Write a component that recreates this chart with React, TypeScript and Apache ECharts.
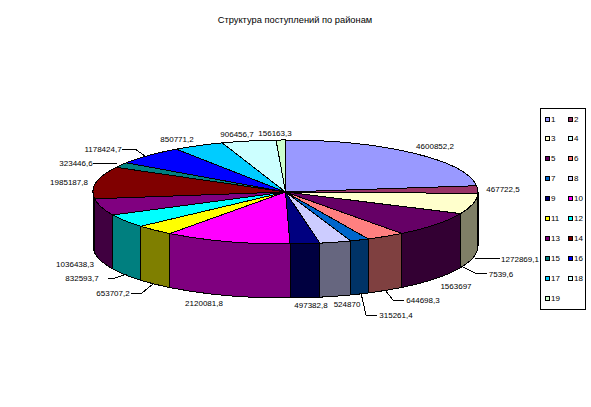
import React, { useEffect, useRef } from "react";
import * as echarts from "echarts";

const titleText = "Структура поступлений по районам";
const categories = ["1","2","3","4","5","6","7","8","9","10","11","12","13","14","15","16","17","18","19"];
const values = [4600852.2,467722.5,1272869.1,7539.6,1563697,644698.3,315261.4,524870,497382.8,2120081.8,653707.2,832593.7,1036438.3,1985187.8,323446.6,1178424.7,850771.2,906456.7,156163.3];
const colors = ["#9999FF","#993366","#FFFFCC","#CCFFFF","#660066","#FF8080","#0066CC","#CCCCFF","#000080","#FF00FF","#FFFF00","#00FFFF","#800080","#800000","#008080","#0000FF","#00CCFF","#CCFFFF","#CCFFCC"];

// Layout only: text centre of each data label, and optional leader line
const labelAt: [number, number][] = [[435,146],[503,189],[520,259],[501,274],[456,286],[423,300],[396,315],[347,304],[311,305],[204,303],[113,293],[82,278],[75,264],[69,182],[76,163],[103,149],[177,139],[237,134],[275,133]];
const leaders: Record<number, [number, number][]> = {
  2: [[475,258],[488,258],[500,259]],
  3: [[463,267],[475,273],[487,273]],
  5: [[385,290],[393,300],[404,300]],
  6: [[361,293],[366,315],[377,315]],
  10: [[153,284],[142,293],[131,293]],
  11: [[127,274],[115,278],[108,278]],
  14: [[93,163],[117,164]],
  15: [[122,149],[135,149],[145,156]],
};

const CX = 285.5, CY = 192, RX = 192.5, RY = 52, DEPTH = 54;
const LABEL_FONT = "8px 'Liberation Sans', Arial, sans-serif";
const total = values.reduce((a, b) => a + b, 0);
const starts: number[] = [];
values.reduce((acc, v) => { starts.push(acc); return acc + v; }, 0);

const pt = (deg: number): [number, number] => {
  const r = (deg * Math.PI) / 180;
  return [CX + RX * Math.sin(r), CY - RY * Math.cos(r)];
};
const halfColor = (hex: string) => {
  const n = parseInt(hex.slice(1), 16);
  const h = (s: number) => (((n >> s) & 255) >> 1).toString(16).padStart(2, "0");
  return "#" + h(16) + h(8) + h(0);
};
const f = (n: number) => n.toFixed(2);

function renderSlice(params: any, api: any) {
  const i = params.dataIndex;
  const v = api.value(0) as number;
  const a0 = (starts[i] / total) * 360;
  const a1 = a0 + (v / total) * 360;
  const color = colors[i];
  const children: any[] = [];
  const [x0, y0] = pt(a0);
  const [x1, y1] = pt(a1);
  const large = a1 - a0 > 180 ? 1 : 0;
  children.push({
    type: "path",
    shape: { pathData: `M${CX} ${CY}L${f(x0)} ${f(y0)}A${RX} ${RY} 0 ${large} 1 ${f(x1)} ${f(y1)}Z` },
    style: { fill: color, stroke: "#000", lineWidth: 1 },
  });
  const w0 = Math.max(a0, 90), w1 = Math.min(a1, 270);
  if (w1 > w0) {
    const [p0x, p0y] = pt(w0);
    const [p1x, p1y] = pt(w1);
    children.push({
      type: "path",
      shape: { pathData: `M${f(p0x)} ${f(p0y)}A${RX} ${RY} 0 0 1 ${f(p1x)} ${f(p1y)}L${f(p1x)} ${f(p1y + DEPTH)}A${RX} ${RY} 0 0 0 ${f(p0x)} ${f(p0y + DEPTH)}Z` },
      style: { fill: halfColor(color), stroke: "#000", lineWidth: 1 },
    });
  }
  if (leaders[i]) {
    children.push({
      type: "polyline",
      shape: { points: leaders[i] },
      style: { fill: "none", stroke: "#000", lineWidth: 1 },
    });
  }
  children.push({
    type: "text",
    style: {
      text: String(v).replace(".", ","),
      x: labelAt[i][0], y: labelAt[i][1],
      align: "center", verticalAlign: "middle",
      font: LABEL_FONT, fill: "#000",
    },
  });
  return { type: "group", children };
}

const LEGEND_X = [545, 568];
const LEGEND_Y0 = 116.5, LEGEND_STEP = 19.9;
const legendGraphics: any[] = [
  { type: "rect", shape: { x: 540.5, y: 108.5, width: 45, height: 201 }, style: { fill: "#fff", stroke: "#000", lineWidth: 1 } },
];
categories.forEach((c, i) => {
  const col = i % 2, row = Math.floor(i / 2);
  const x = LEGEND_X[col], y = Math.round(LEGEND_Y0 + row * LEGEND_STEP);
  legendGraphics.push({ type: "rect", shape: { x: x + 0.5, y: y + 0.5, width: 4, height: 4 }, style: { fill: colors[i], stroke: "#000", lineWidth: 1 } });
  legendGraphics.push({ type: "text", x: x + 6, y: y - 2, style: { text: c, font: LABEL_FONT, fill: "#000", align: "left", verticalAlign: "top" } });
});

export default function App() {
  const ref = useRef<HTMLDivElement>(null);
  useEffect(() => {
    const chart = echarts.init(ref.current!, null, { renderer: "svg" });
    chart.setOption({
      animation: false,
      backgroundColor: "#fff",
      title: {
        text: titleText, left: 290, top: 10, textAlign: "center",
        textStyle: { fontFamily: "'Liberation Sans', Arial, sans-serif", fontSize: 9.3, fontWeight: "normal", color: "#000" },
      },
      graphic: legendGraphics,
      series: [{
        type: "custom",
        coordinateSystem: "none",
        silent: true,
        data: values.map((v, i) => ({ name: categories[i], value: [v] })),
        renderItem: renderSlice,
      }],
    });
    return () => chart.dispose();
  }, []);
  return (
    <>
      <style>{"svg path, svg polyline { shape-rendering: crispEdges; }"}</style>
      <div ref={ref} style={{ position: "fixed", left: 0, top: 0, width: 591, height: 407 }} />
    </>
  );
}
